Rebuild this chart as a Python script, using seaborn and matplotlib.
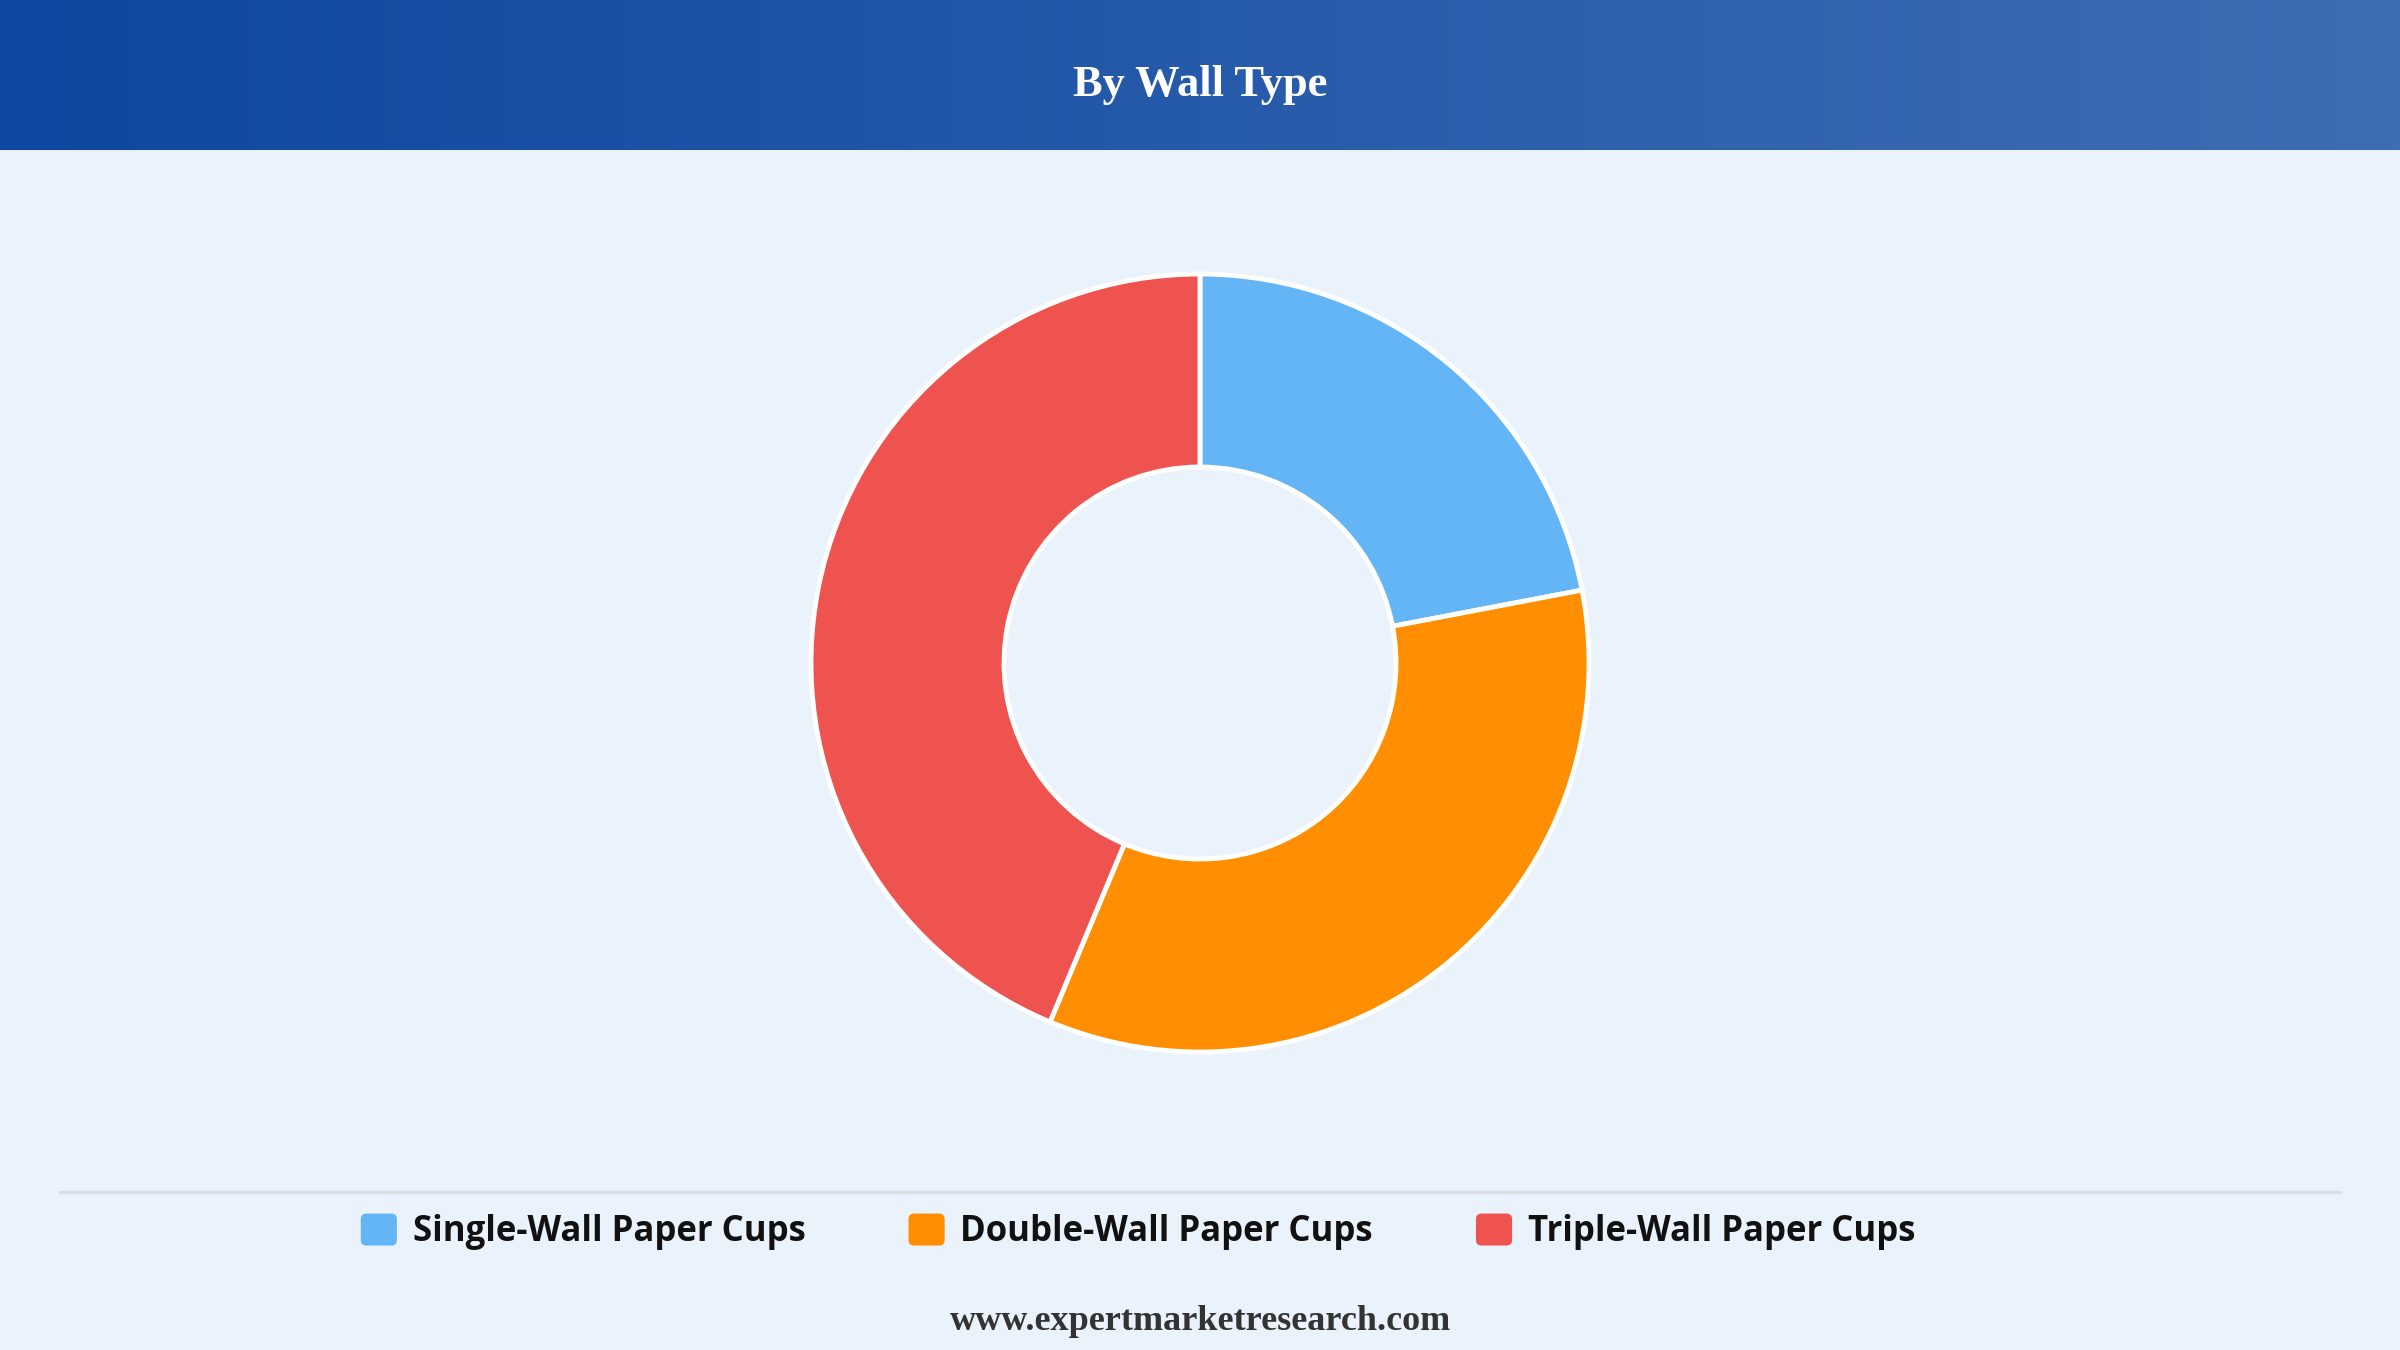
import numpy as np
import matplotlib
matplotlib.use("Agg")
import matplotlib.pyplot as plt
from matplotlib.patches import Patch, FancyBboxPatch
from matplotlib.legend_handler import HandlerPatch
from matplotlib.colors import LinearSegmentedColormap
from matplotlib.font_manager import FontProperties
import seaborn as sns

# data
categories = ["Single-Wall Paper Cups", "Double-Wall Paper Cups", "Triple-Wall Paper Cups"]
shares = [22.0, 34.3, 43.7]
colors = ["#64b5f6", "#ff8f00", "#ef5350"]
title = "By Wall Type"
footer = "www.expertmarketresearch.com"

sns.set_theme(style="white")
plt.rcParams["font.family"] = ["Open Sans", "DejaVu Sans"]

W, H = 2400, 1350
bg = "#eaf2fb"
fig = plt.figure(figsize=(24, 13.5), dpi=100, facecolor=bg)

# canvas axes in pixel units
ax = fig.add_axes([0, 0, 1, 1])
ax.set_facecolor(bg)

# header gradient band
header_h = 150
grad = np.linspace(0, 1, 256).reshape(1, -1)
cmap = LinearSegmentedColormap.from_list("hdr", ["#0d47a1", "#3f6db3"])
ax.imshow(grad, cmap=cmap, aspect="auto", extent=(0, W, H - header_h, H), zorder=1)

# donut
wedges, _ = ax.pie(
    shares,
    colors=sns.color_palette(colors),
    startangle=90,
    counterclock=False,
    center=(1200, H - 663),
    radius=389,
    wedgeprops=dict(width=193, edgecolor="white", linewidth=3.5),
)
for w in wedges:
    w.set_zorder(3)

ax.set_xlim(0, W)
ax.set_ylim(0, H)
ax.set_aspect("auto")
ax.axis("off")

# separator line above legend
ax.plot([60, 2340], [H - 1192, H - 1192], color="#dadde2", lw=2.5, zorder=2)

ax.text(W / 2, H - 85, title, ha="center", va="center", color="white",
        fontsize=32, fontweight="bold", family=["Liberation Serif", "DejaVu Serif"], zorder=4)

ax.text(W / 2, H - 1322, footer, ha="center", va="center", color="#333333",
        fontsize=26, fontweight="bold", family=["Liberation Serif", "DejaVu Serif"], zorder=4)


def rounded_square(legend, orig_handle, xdescent, ydescent, width, height, fontsize):
    return FancyBboxPatch((-xdescent, -ydescent), width, height,
                          boxstyle="round,pad=0,rounding_size=4")


legend_font = FontProperties(family=["Open Sans", "DejaVu Sans"], weight="bold", size=25)
handles = [Patch(facecolor=c, edgecolor="none") for c in colors]
leg = fig.legend(
    handles, categories,
    loc="center", bbox_to_anchor=(1138 / W, 1 - 1232 / H),
    ncol=3, frameon=False, prop=legend_font,
    handlelength=1.04, handleheight=1.04, handletextpad=0.45, columnspacing=2.97,
    handler_map={Patch: HandlerPatch(patch_func=rounded_square)},
)
for t in leg.get_texts():
    t.set_color("#111111")

fig.savefig("out.png", dpi=100, facecolor=bg)
